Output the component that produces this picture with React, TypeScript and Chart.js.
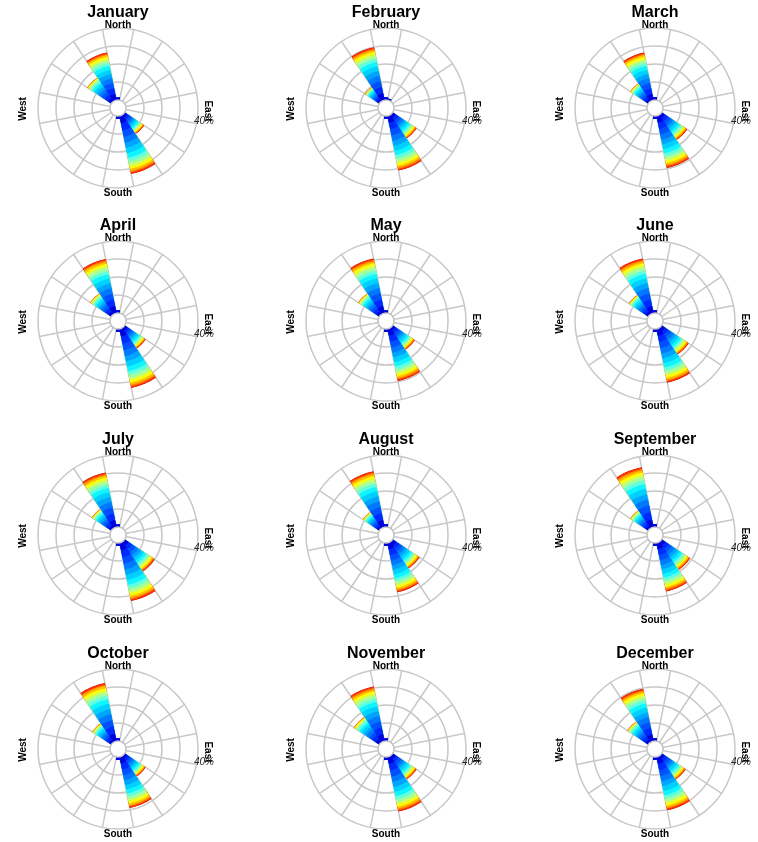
import React, { useEffect, useRef } from 'react';
import { Chart, registerables } from 'chart.js';

Chart.register(...registerables);

// ---------- data ----------
const MONTHS = [
  'January', 'February', 'March', 'April', 'May', 'June',
  'July', 'August', 'September', 'October', 'November', 'December',
];

// 16 compass sectors, clockwise from North
const DIRECTIONS = ['N', 'NNE', 'NE', 'ENE', 'E', 'ESE', 'SE', 'SSE', 'S', 'SSW', 'SW', 'WSW', 'W', 'WNW', 'NW', 'NNW'];

// ring values (%)
const RINGS = [0, 10, 20, 30, 40];
const RING_STEP = 10;
const RING_LABEL = '40%';

// speed-class colours, innermost (calm) to outermost (strong)
const SPEED_COLORS = [
  '#0000d8', '#0028ff', '#0050ff', '#0078ff', '#00a4ff',
  '#00d0ff', '#10f4ff', '#60ffe0', '#a0ffa0', '#d0ff60',
  '#ffff00', '#ffc000', '#ff8000', '#ff3000', '#c00000',
];

// share (%) of each speed class in a sector, per sector type
const SHARE_STRONG = [13, 12, 11, 10, 9, 9, 8, 6, 5, 4, 4, 3.5, 2.5, 2.5, 1.5];
const SHARE_WEAK = [14, 14, 12, 11, 10, 10, 8, 7, 5, 4, 2, 1.5, 1, 0.8, 0.7];
const SHARE_CALM = [100, 0, 0, 0, 0, 0, 0, 0, 0, 0, 0, 0, 0, 0, 0];

// which share profile each sector uses (N ... NNW)
const SECTOR_PROFILE = [
  'calm', 'calm', 'calm', 'calm', 'calm', 'calm', 'strong', 'strong',
  'calm', 'calm', 'calm', 'calm', 'calm', 'calm', 'weak', 'strong',
];

// total frequency (%) per sector, N ... NNW
const JAN = [1.5, 0, 0, 0, 0, 0, 13, 33, 1.5, 0, 0, 0, 0, 0, 16, 27];
const FEB = [1.5, 1, 0, 0, 0, 0, 16, 31, 1.5, 0, 0, 0, 0, 0, 9.5, 30];
const MAR = [1.5, 0, 0, 0, 0, 0, 17, 29.5, 1.5, 0, 0, 0, 0, 0, 12, 27];
const APR = [1.5, 0, 0, 0, 0, 0, 14, 33.5, 1.5, 0, 0, 0, 0, 0, 14, 30.7];
const MAY = [1.5, 0, 0, 0, 0, 0, 14.8, 29.5, 1.5, 0, 0, 0, 0, 0, 14, 31];
const JUN = [1.5, 0, 0, 0, 0, 0, 18, 30.5, 1.5, 0, 0, 0, 0, 0, 13, 31];
const JUL = [1.5, 0, 0, 0, 0, 0, 20, 33, 1.5, 0, 0, 0, 0, 0, 13, 31];
const AUG = [1.5, 0, 0, 0, 0, 0, 18, 28, 1.5, 0, 0, 0, 0, 0, 11, 31.7];
const SEP = [1.5, 0, 0, 0, 0, 0, 19, 27.5, 1.5, 0, 0, 0, 0, 0, 12, 34];
const OCT = [1.5, 0, 0, 0, 0, 0, 14, 29, 1.5, 0, 0, 0, 0, 0, 12.7, 33];
const NOV = [1.5, 0, 0, 0, 0, 0, 16, 31, 1.5, 0, 0, 0, 0, 0, 17, 31];
const DEC = [1.5, 0, 0, 0, 0, 0, 16, 30.3, 1.5, 0, 0, 0, 0, 0, 14, 29.7];

const MONTH_TOTALS = [JAN, FEB, MAR, APR, MAY, JUN, JUL, AUG, SEP, OCT, NOV, DEC];

// ---------- layout ----------
const COL_X = [118, 386, 655];
const ROW_Y = [108, 321, 535, 749];
const CW = 260;
const CH = 210;
const CX = 130;
const CY = 110;
const R = 80;
const HOLE = 8;
const GRID = 'rgb(200,200,200)';
const FONT = '"Liberation Sans", Arial, Helvetica, sans-serif';

const PROFILES: Record<string, number[]> = { strong: SHARE_STRONG, weak: SHARE_WEAK, calm: SHARE_CALM };

function cumulative(arr: number[]) {
  const out: number[] = [];
  let s = 0;
  for (const v of arr) { s += v; out.push(s / 100); }
  return out;
}

function buildDatasets(totals: number[]) {
  const cums = SECTOR_PROFILE.map((p) => cumulative(PROFILES[p]));
  return SPEED_COLORS.map((color, k) => ({
    label: 'class ' + (k + 1),
    data: totals.map((t, i) => t * Math.min(1, cums[i][k])),
    backgroundColor: color,
    borderWidth: 0,
  }));
}

const decorPlugin = {
  id: 'decor',
  afterDatasetsDraw(chart: any) {
    const s = chart.scales.r;
    const ctx = chart.ctx;
    const hole = s.getDistanceFromCenterForValue(0);
    ctx.save();
    ctx.beginPath();
    ctx.arc(s.xCenter, s.yCenter, hole, 0, Math.PI * 2);
    ctx.fillStyle = '#ffffff';
    ctx.fill();
    ctx.lineWidth = 1.5;
    ctx.strokeStyle = GRID;
    ctx.stroke();
    ctx.restore();
  },
  afterDraw(chart: any, _args: any, opts: any) {
    const s = chart.scales.r;
    const ctx = chart.ctx;
    const x = s.xCenter;
    const y = s.yCenter;
    ctx.save();
    ctx.fillStyle = '#000';
    ctx.textAlign = 'center';
    ctx.textBaseline = 'middle';
    ctx.font = 'bold 16px ' + FONT;
    ctx.fillText(opts.title, x, y - 95);
    ctx.font = 'bold 10px ' + FONT;
    ctx.fillText('North', x, y - 83);
    ctx.fillText('South', x, y + 85);
    ctx.save();
    ctx.translate(x - 95, y + 1);
    ctx.rotate(-Math.PI / 2);
    ctx.fillText('West', 0, 0);
    ctx.restore();
    ctx.save();
    ctx.translate(x + 90, y + 3);
    ctx.rotate(Math.PI / 2);
    ctx.fillText('East', 0, 0);
    ctx.restore();
    ctx.font = 'italic 10px ' + FONT;
    ctx.fillStyle = '#222';
    ctx.fillText(RING_LABEL, x + 86, y + 13);
    ctx.restore();
  },
};

function Panel({ month, totals, left, top }: { month: string; totals: number[]; left: number; top: number }) {
  const ref = useRef<HTMLCanvasElement | null>(null);
  useEffect(() => {
    if (!ref.current) return;
    const maxVal = RINGS[RINGS.length - 1];
    const minVal = -maxVal * HOLE / (R - HOLE);
    const chart = new Chart(ref.current, {
      type: 'polarArea',
      data: { labels: DIRECTIONS, datasets: buildDatasets(totals) as any },
      options: {
        responsive: false,
        animation: false,
        layout: { padding: { left: CX - R, right: CW - CX - R, top: CY - R, bottom: CH - CY - R } },
        plugins: {
          legend: { display: false },
          tooltip: { enabled: false },
          decor: { title: month },
        } as any,
        scales: {
          r: {
            min: minVal,
            max: maxVal,
            startAngle: -180 / DIRECTIONS.length,
            ticks: { display: false, stepSize: RING_STEP },
            grid: {
              display: true,
              circular: true,
              lineWidth: 1.5,
              color: (c: any) => (c.tick && RINGS.includes(Math.round(c.tick.value * 1000) / 1000) ? GRID : 'rgba(0,0,0,0)'),
            },
            angleLines: { display: true, color: GRID, lineWidth: 1.5 },
            pointLabels: { display: false },
          } as any,
        },
      },
      plugins: [decorPlugin as any],
    });
    return () => chart.destroy();
  }, [month, totals]);
  return (
    <canvas
      ref={ref}
      width={CW}
      height={CH}
      style={{ position: 'absolute', left, top, width: CW, height: CH }}
    />
  );
}

export default function App() {
  return (
    <div style={{ position: 'absolute', left: 0, top: 0, width: 758, height: 842, overflow: 'hidden', background: '#fff' }}>
      {MONTHS.map((m, i) => (
        <Panel
          key={m}
          month={m}
          totals={MONTH_TOTALS[i]}
          left={COL_X[i % 3] - CX}
          top={ROW_Y[Math.floor(i / 3)] - CY}
        />
      ))}
    </div>
  );
}
